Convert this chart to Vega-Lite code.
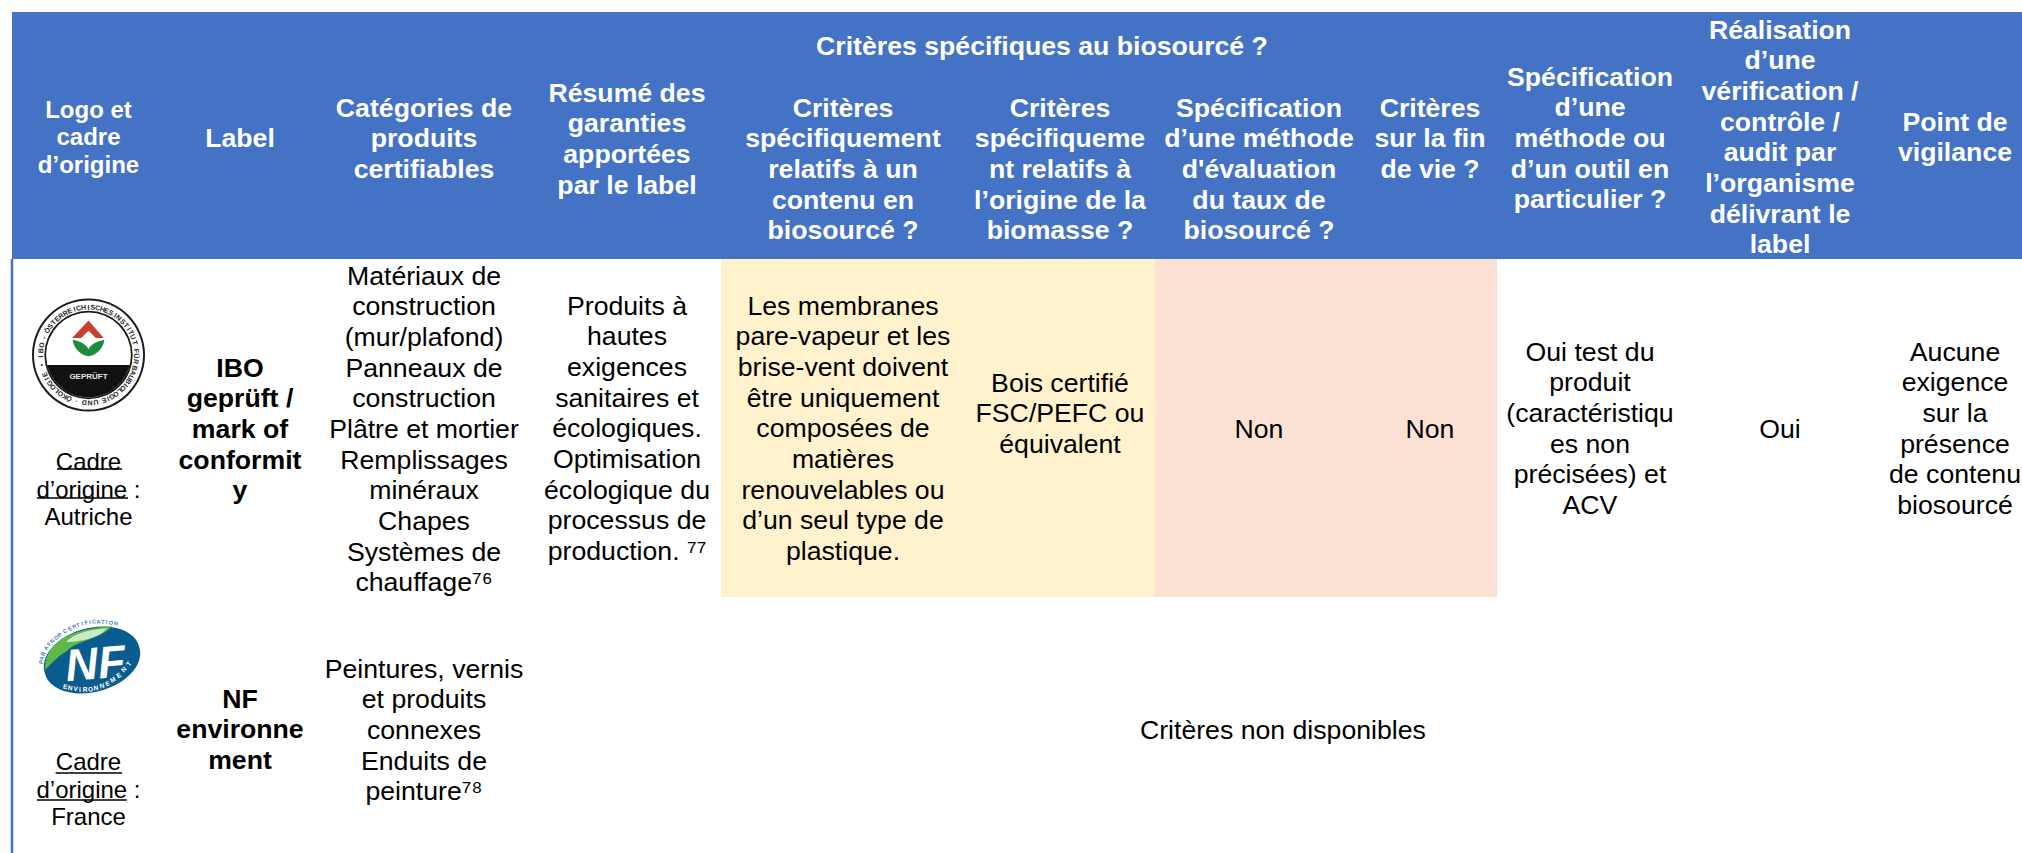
{"$schema":"https://vega.github.io/schema/vega-lite/v6.json","width":2022,"height":853,"padding":0,"autosize":{"type":"none"},"background":"#ffffff","view":{"stroke":null},
"config":{"text":{"font":"Liberation Sans","lineBreak":"\n"}},
"datasets":{
"fills":[{"col":0.5,"col2":11.5,"level":0,"level2":9,"kind":"entete"},{"col":4.5,"col2":6.5,"level":9,"level2":21,"kind":"partiel"},{"col":6.5,"col2":8.5,"level":9,"level2":21,"kind":"non"}],
"frame":[{"col":0.5,"level":9,"level2":29}],
"header":[
{"col":5.905,"level":2,"t":"Critères spécifiques au biosourcé ?"},
{"col":2,"level":8,"t":"Label"},
{"col":3,"level":5,"t":"Catégories de\nproduits\ncertifiables"},
{"col":4,"level":4,"t":"Résumé des\ngaranties\napportées\npar le label"},
{"col":5,"level":5,"t":"Critères\nspécifiquement\nrelatifs à un\ncontenu en\nbiosourcé ?"},
{"col":6,"level":5,"t":"Critères\nspécifiqueme\nnt relatifs à\nl’origine de la\nbiomasse ?"},
{"col":7,"level":5,"t":"Spécification\nd’une méthode\nd'évaluation\ndu taux de\nbiosourcé ?"},
{"col":8,"level":5,"t":"Critères\nsur la fin\nde vie ?"},
{"col":9,"level":3,"t":"Spécification\nd’une\nméthode ou\nd’un outil en\nparticulier ?"},
{"col":10,"level":1,"t":"Réalisation\nd’une\nvérification /\ncontrôle /\naudit par\nl’organisme\ndélivrant le\nlabel"},
{"col":11,"level":7,"t":"Point de\nvigilance"}],
"headerSmall":[{"col":1,"level":6,"t":"Logo et\ncadre\nd’origine"}],
"labels":[{"col":2,"level":14,"t":"IBO\ngeprüft /\nmark of\nconformit\ny"},{"col":2,"level":24,"t":"NF\nenvironne\nment"}],
"body":[
{"col":3,"level":10,"t":"Matériaux de\nconstruction\n(mur/plafond)\nPanneaux de\nconstruction\nPlâtre et mortier\nRemplissages\nminéraux\nChapes\nSystèmes de\nchauffage⁷⁶"},
{"col":4,"level":11,"t":"Produits à\nhautes\nexigences\nsanitaires et\nécologiques.\nOptimisation\nécologique du\nprocessus de\nproduction. ⁷⁷"},
{"col":5,"level":11,"t":"Les membranes\npare-vapeur et les\nbrise-vent doivent\nêtre uniquement\ncomposées de\nmatières\nrenouvelables ou\nd’un seul type de\nplastique."},
{"col":6,"level":16,"t":"Bois certifié\nFSC/PEFC ou\néquivalent"},
{"col":7,"level":17,"t":"Non"},
{"col":8,"level":17,"t":"Non"},
{"col":9,"level":12,"t":"Oui test du\nproduit\n(caractéristiqu\nes non\nprécisées) et\nACV"},
{"col":10,"level":17,"t":"Oui"},
{"col":11,"level":12,"t":"Aucune\nexigence\nsur la\nprésence\nde contenu\nbiosourcé"},
{"col":3,"level":23,"t":"Peintures, vernis\net produits\nconnexes\nEnduits de\npeinture⁷⁸"},
{"col":7.115,"level":25,"t":"Critères non disponibles"}],
"origin":[{"col":1,"level":18,"t":"Cadre\nd’origine :\nAutriche"},{"col":1,"level":26,"t":"Cadre\nd’origine :\nFrance"}],
"underlines":[{"col":0.794,"col2":1.219,"level":19},{"col":0.663,"col2":1.258,"level":20},{"col":0.785,"col2":1.219,"level":27},{"col":0.663,"col2":1.25,"level":28}],
"logo1":[{"col":1,"level":13}],
"logo1label":[{"col":1,"level":15,"t":"GEPRÜFT"}],
"ring":[{"col":1,"level":13,"c":"I","a":268},{"col":1,"level":13,"c":"B","a":275},{"col":1,"level":13,"c":"O","a":282},{"col":1,"level":13,"c":"-","a":291},{"col":1,"level":13,"c":"Ö","a":301},{"col":1,"level":13,"c":"S","a":307},{"col":1,"level":13,"c":"T","a":313},{"col":1,"level":13,"c":"E","a":319},{"col":1,"level":13,"c":"R","a":325},{"col":1,"level":13,"c":"R","a":331},{"col":1,"level":13,"c":"E","a":337},{"col":1,"level":13,"c":"I","a":343},{"col":1,"level":13,"c":"C","a":348},{"col":1,"level":13,"c":"H","a":354},{"col":1,"level":13,"c":"I","a":360},{"col":1,"level":13,"c":"S","a":5},{"col":1,"level":13,"c":"C","a":11},{"col":1,"level":13,"c":"H","a":17},{"col":1,"level":13,"c":"E","a":22},{"col":1,"level":13,"c":"S","a":28},{"col":1,"level":13,"c":"I","a":34},{"col":1,"level":13,"c":"N","a":39},{"col":1,"level":13,"c":"S","a":46},{"col":1,"level":13,"c":"T","a":52},{"col":1,"level":13,"c":"I","a":57},{"col":1,"level":13,"c":"T","a":62},{"col":1,"level":13,"c":"U","a":68},{"col":1,"level":13,"c":"T","a":75},{"col":1,"level":13,"c":"F","a":85},{"col":1,"level":13,"c":"Ü","a":91},{"col":1,"level":13,"c":"R","a":98},{"col":1,"level":13,"c":"B","a":106},{"col":1,"level":13,"c":"A","a":112},{"col":1,"level":13,"c":"U","a":118},{"col":1,"level":13,"c":"B","a":124},{"col":1,"level":13,"c":"I","a":129},{"col":1,"level":13,"c":"O","a":134},{"col":1,"level":13,"c":"L","a":139},{"col":1,"level":13,"c":"O","a":145},{"col":1,"level":13,"c":"G","a":151},{"col":1,"level":13,"c":"I","a":156},{"col":1,"level":13,"c":"E","a":161},{"col":1,"level":13,"c":"U","a":171},{"col":1,"level":13,"c":"N","a":178},{"col":1,"level":13,"c":"D","a":185},{"col":1,"level":13,"c":"·","a":195},{"col":1,"level":13,"c":"Ö","a":204},{"col":1,"level":13,"c":"K","a":210},{"col":1,"level":13,"c":"O","a":216},{"col":1,"level":13,"c":"L","a":222},{"col":1,"level":13,"c":"O","a":228},{"col":1,"level":13,"c":"G","a":234},{"col":1,"level":13,"c":"I","a":240},{"col":1,"level":13,"c":"E","a":246},{"col":1,"level":13,"c":"•","a":258}],
"logo2":[{"col":1.023,"level":22}],
"logo2label":[{"col":1.023,"level":22,"t":"NF"}],
"envLetters":[{"col":1.023,"level":22,"c":"E","a":225,"r":38,"g":10},{"col":1.023,"level":22,"c":"N","a":218,"r":35.6,"g":8},{"col":1.023,"level":22,"c":"V","a":209.6,"r":33.4,"g":5},{"col":1.023,"level":22,"c":"I","a":201.8,"r":32.3,"g":0},{"col":1.023,"level":22,"c":"R","a":193,"r":30.8,"g":0},{"col":1.023,"level":22,"c":"O","a":183,"r":29.5,"g":-5},{"col":1.023,"level":22,"c":"N","a":172,"r":28.3,"g":-10},{"col":1.023,"level":22,"c":"N","a":159,"r":27.9,"g":-15},{"col":1.023,"level":22,"c":"E","a":147,"r":28.6,"g":-20},{"col":1.023,"level":22,"c":"M","a":133.6,"r":29,"g":-28},{"col":1.023,"level":22,"c":"E","a":119.9,"r":31.1,"g":-35},{"col":1.023,"level":22,"c":"N","a":107,"r":33.5,"g":-45},{"col":1.023,"level":22,"c":"T","a":96,"r":37.2,"g":-55}],
"afnorLetters":[{"col":1.023,"level":22,"c":"P","a":267.8,"r":51,"g":-75},{"col":1.023,"level":22,"c":"A","a":272,"r":50.5,"g":-70},{"col":1.023,"level":22,"c":"R","a":277,"r":49.4,"g":-65},{"col":1.023,"level":22,"c":"A","a":284.6,"r":47.5,"g":-60},{"col":1.023,"level":22,"c":"F","a":290.4,"r":45.9,"g":-55},{"col":1.023,"level":22,"c":"N","a":295.4,"r":44.3,"g":-50},{"col":1.023,"level":22,"c":"O","a":302,"r":42.5,"g":-45},{"col":1.023,"level":22,"c":"R","a":308,"r":41.3,"g":-40},{"col":1.023,"level":22,"c":"C","a":317,"r":39.6,"g":-30},{"col":1.023,"level":22,"c":"E","a":325,"r":38.4,"g":-28},{"col":1.023,"level":22,"c":"R","a":332,"r":38,"g":-24},{"col":1.023,"level":22,"c":"T","a":338,"r":37.7,"g":-20},{"col":1.023,"level":22,"c":"I","a":345,"r":37.8,"g":-17},{"col":1.023,"level":22,"c":"F","a":351,"r":38,"g":-14},{"col":1.023,"level":22,"c":"I","a":357,"r":38,"g":-10},{"col":1.023,"level":22,"c":"C","a":3,"r":38.6,"g":-8},{"col":1.023,"level":22,"c":"A","a":9.6,"r":39,"g":-6},{"col":1.023,"level":22,"c":"T","a":16,"r":39.6,"g":-3},{"col":1.023,"level":22,"c":"I","a":21,"r":40.2,"g":0},{"col":1.023,"level":22,"c":"O","a":27,"r":42,"g":3},{"col":1.023,"level":22,"c":"N","a":33,"r":44,"g":6}]
},
"encoding":{
"x":{"field":"col","type":"quantitative","axis":null,"scale":{"nice":false,"zero":false,"domain":[0.5,1,1.5,2,2.5,3,3.5,4,4.5,5,5.5,6,6.5,7,7.5,8,8.5,9,9.5,10,10.5,11,11.5],"range":[12,88.5,165,240,315,424,533,627,721,843,965,1060,1155,1259,1363,1430,1497,1590,1683,1780,1877,1955,2022]}},
"y":{"field":"level","type":"quantitative","axis":null,"scale":{"nice":false,"zero":false,"domain":[0,1,2,3,4,5,6,7,8,9,10,11,12,13,14,15,16,17,18,19,20,21,22,23,24,25,26,27,28,29],"range":[12,29,45,76,92,107,109,121,137,259,275,305,351,355,367,377,382,428,462,469,498,597,660,668,698,729,762,773,800,853]}}
},
"layer":[
{"data":{"name":"fills"},"mark":{"type":"rect"},"encoding":{"x2":{"field":"col2"},"y2":{"field":"level2"},"color":{"field":"kind","type":"nominal","legend":null,"scale":{"domain":["entete","partiel","non"],"range":["#4472C4","#FFF2CC","#FCE2D5"]}}}},
{"data":{"name":"frame"},"mark":{"type":"rule","color":"#4472C4","strokeWidth":2.5},"encoding":{"y2":{"field":"level2"}}},
{"data":{"name":"header"},"mark":{"type":"text","fontWeight":"bold","fontSize":26.67,"lineHeight":30.67,"color":"#ffffff","align":"center","baseline":"middle","dy":1.5},"encoding":{"text":{"field":"t"}}},
{"data":{"name":"headerSmall"},"mark":{"type":"text","fontWeight":"bold","fontSize":24,"lineHeight":27.6,"color":"#ffffff","align":"center","baseline":"middle","dy":1.5},"encoding":{"text":{"field":"t"}}},
{"data":{"name":"labels"},"mark":{"type":"text","fontWeight":"bold","fontSize":26.67,"lineHeight":30.67,"color":"#000000","align":"center","baseline":"middle","dy":1.5},"encoding":{"text":{"field":"t"}}},
{"data":{"name":"body"},"mark":{"type":"text","fontSize":26.67,"lineHeight":30.67,"color":"#000000","align":"center","baseline":"middle","dy":1.5},"encoding":{"text":{"field":"t"}}},
{"data":{"name":"origin"},"mark":{"type":"text","fontSize":24,"lineHeight":27.6,"color":"#000000","align":"center","baseline":"middle","dy":1},"encoding":{"text":{"field":"t"}}},
{"data":{"name":"underlines"},"mark":{"type":"rule","color":"#000000","strokeWidth":1.5},"encoding":{"x2":{"field":"col2"}}},
{"data":{"name":"logo1"},"mark":{"type":"point","filled":true,"shape":"circle","size":12769,"fill":"#1a1a1a","opacity":1,"strokeWidth":0}},
{"data":{"name":"logo1"},"mark":{"type":"point","filled":true,"shape":"circle","size":11900,"fill":"#ffffff","opacity":1,"strokeWidth":0}},
{"data":{"name":"logo1"},"mark":{"type":"point","filled":true,"shape":"circle","size":7800,"fill":"#1a1a1a","opacity":1,"strokeWidth":0}},
{"data":{"name":"logo1"},"mark":{"type":"point","filled":true,"shape":"circle","size":7200,"fill":"#ffffff","opacity":1,"strokeWidth":0}},
{"data":{"name":"logo1"},"mark":{"type":"point","filled":true,"size":12769,"fill":"#111111","opacity":1,"strokeWidth":0,"shape":"M-0.729,0.177L0.729,0.177A0.75,0.75,0,0,1,-0.729,0.177Z"}},
{"data":{"name":"logo1"},"mark":{"type":"point","filled":true,"size":12769,"fill":"#C5402F","opacity":1,"strokeWidth":0,"shape":"M0,-0.61L0.27,-0.3L0.13,-0.3L0,-0.43L-0.13,-0.3L-0.29,-0.3Z"}},
{"data":{"name":"logo1"},"mark":{"type":"point","filled":true,"size":12769,"fill":"#1E8A3C","opacity":1,"strokeWidth":0,"shape":"M-0.28,-0.27C-0.2,-0.25,-0.05,-0.22,0,-0.1C0.05,-0.22,0.2,-0.25,0.28,-0.27C0.27,-0.1,0.1,0.02,0,0.02C-0.1,0.02,-0.27,-0.1,-0.28,-0.27Z"}},
{"data":{"name":"logo1label"},"mark":{"type":"text","fontWeight":"bold","fontSize":8,"color":"#e8e8e8","align":"center","baseline":"middle"},"encoding":{"text":{"field":"t"}}},
{"data":{"name":"ring"},"mark":{"type":"text","fontSize":7,"fontWeight":"bold","color":"#222222","align":"center","baseline":"middle"},"encoding":{"text":{"field":"c"},"theta":{"field":"a","type":"quantitative","scale":{"domain":[0,360],"range":[0,6.28319]}},"radius":{"value":47.5},"angle":{"field":"a","type":"quantitative","scale":null}}},
{"data":{"name":"logo2"},"mark":{"type":"point","filled":true,"size":10000,"fill":"#0B5C8E","opacity":1,"strokeWidth":0,"shape":"M-0.946,0.254A0.98,0.62,-15,1,1,0.946,-0.254A0.98,0.62,-15,1,1,-0.946,0.254Z"}},
{"data":{"name":"logo2"},"mark":{"type":"point","filled":true,"size":10000,"fill":"#5BB947","opacity":1,"strokeWidth":0,"shape":"M-0.94,0.2C-0.95,-0.2,-0.7,-0.6,0.4,-0.68C0.2,-0.42,-0.3,-0.4,-0.5,-0.18C-0.65,-0.1,-0.8,0.05,-0.94,0.2Z"}},
{"data":{"name":"logo2"},"mark":{"type":"point","filled":true,"size":10000,"fill":"#CDE8C4","opacity":1,"strokeWidth":0,"shape":"M-0.52,-0.36C-0.35,-0.55,0,-0.62,0.3,-0.63C0.15,-0.45,-0.25,-0.35,-0.52,-0.36Z"}},
{"data":{"name":"logo2label"},"mark":{"type":"text","fontWeight":"bold","fontStyle":"italic","fontSize":45,"color":"#ffffff","align":"center","baseline":"middle","angle":-5,"dx":3,"dy":5},"encoding":{"text":{"field":"t"}}},
{"data":{"name":"envLetters"},"mark":{"type":"text","fontSize":6.5,"fontWeight":"bold","color":"#ffffff","align":"center","baseline":"middle"},"encoding":{"text":{"field":"c"},"theta":{"field":"a","type":"quantitative","scale":{"domain":[0,360],"range":[0,6.28319]}},"radius":{"field":"r","type":"quantitative","scale":null},"angle":{"field":"g","type":"quantitative","scale":null}}},
{"data":{"name":"afnorLetters"},"mark":{"type":"text","fontSize":5.5,"fontWeight":"bold","color":"#3E7FA8","align":"center","baseline":"middle"},"encoding":{"text":{"field":"c"},"theta":{"field":"a","type":"quantitative","scale":{"domain":[0,360],"range":[0,6.28319]}},"radius":{"field":"r","type":"quantitative","scale":null},"angle":{"field":"g","type":"quantitative","scale":null}}}
]}
